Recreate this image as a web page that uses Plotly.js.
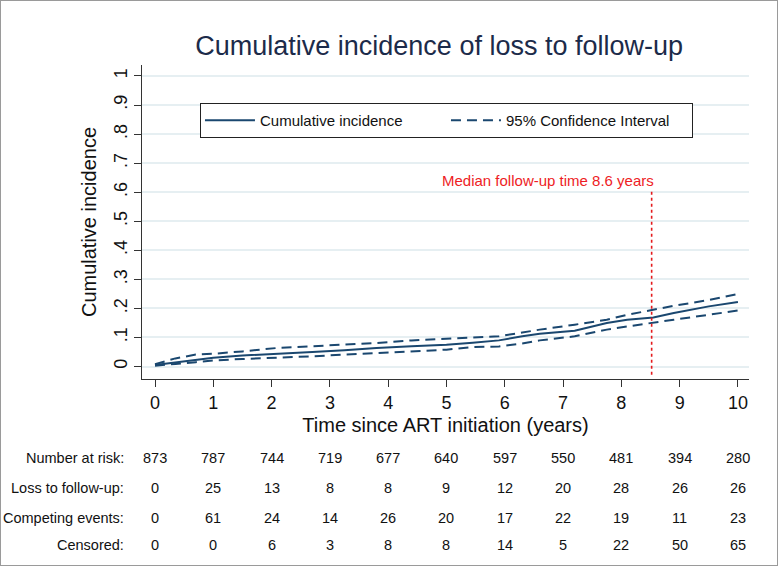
<!DOCTYPE html>
<html><head><meta charset="utf-8">
<script src="https://cdn.plot.ly/plotly-3.0.1.min.js"></script>
<style>
html,body{margin:0;padding:0;background:#fff;}
#chart{width:780px;height:567px;}
#frame{position:absolute;left:0;top:0;width:778px;height:566px;box-sizing:border-box;border:1.5px solid #9a9a9a;pointer-events:none;}
</style>
</head><body>
<div id="chart"></div><div id="frame"></div>
<script>
// ---- data ----
const years     = [0, 0.15, 0.35, 0.7, 1.0, 1.5, 2.1, 2.7, 3.25, 3.8, 4.4, 5.0, 5.45, 5.9, 6.3, 6.6, 7.2, 7.45, 7.75, 8.1, 8.55, 8.9, 9.5, 10];
const cif       = [0.005, 0.009, 0.015, 0.024, 0.030, 0.038, 0.043, 0.050, 0.056, 0.064, 0.070, 0.075, 0.082, 0.090, 0.104, 0.113, 0.123, 0.136, 0.150, 0.161, 0.169, 0.184, 0.207, 0.222];
const ciUpper   = [0.008, 0.016, 0.028, 0.041, 0.044, 0.052, 0.064, 0.070, 0.075, 0.081, 0.090, 0.095, 0.098, 0.104, 0.117, 0.127, 0.144, 0.152, 0.161, 0.178, 0.195, 0.209, 0.229, 0.250];
const ciLower   = [0.003, 0.005, 0.009, 0.015, 0.021, 0.026, 0.030, 0.035, 0.041, 0.047, 0.052, 0.058, 0.067, 0.069, 0.079, 0.090, 0.104, 0.115, 0.127, 0.138, 0.150, 0.161, 0.178, 0.193];

const xTickVals = [0, 1, 2, 3, 4, 5, 6, 7, 8, 9, 10];
const xTickText = ['0', '1', '2', '3', '4', '5', '6', '7', '8', '9', '10'];
const yTickVals = [0, 0.1, 0.2, 0.3, 0.4, 0.5, 0.6, 0.7, 0.8, 0.9, 1];
const yTickText = ['0', '.1', '.2', '.3', '.4', '.5', '.6', '.7', '.8', '.9', '1'];

const riskTimes       = [0, 1, 2, 3, 4, 5, 6, 7, 8, 9, 10];
const riskLabels      = ['Number at risk:', 'Loss to follow-up:', 'Competing events:', 'Censored:'];
const numberAtRisk    = [873, 787, 744, 719, 677, 640, 597, 550, 481, 394, 280];
const lossToFollowUp  = [0, 25, 13, 8, 8, 9, 12, 20, 28, 26, 26];
const competingEvents = [0, 61, 24, 14, 26, 20, 17, 22, 19, 11, 23];
const censored        = [0, 0, 6, 3, 8, 8, 14, 5, 22, 50, 65];

const medianLineAt = 8.52;
const medianLabel  = 'Median follow-up time 8.6 years';

// ---- styling ----
const navy = '#1a476f';
const baseFont = 'Liberation Sans, Arial, sans-serif';

const traces = [
  {x: years, y: cif, type: 'scatter', mode: 'lines', name: 'Cumulative incidence',
   line: {color: navy, width: 2}},
  {x: years, y: ciUpper, type: 'scatter', mode: 'lines', name: '95% Confidence Interval',
   legendgroup: 'ci', line: {color: navy, width: 2, dash: '10px,6px'}},
  {x: years, y: ciLower, type: 'scatter', mode: 'lines', name: '95% Confidence Interval',
   legendgroup: 'ci', showlegend: false, line: {color: navy, width: 2, dash: '10px,6px'}}
];

const tableRows = [numberAtRisk, lossToFollowUp, competingEvents, censored];
const rowY = [-0.252, -0.347, -0.444, -0.530];
const annotations = [];
tableRows.forEach((row, r) => {
  annotations.push({xref: 'x', yref: 'paper', x: 0, y: rowY[r], xanchor: 'right', yanchor: 'middle',
    xshift: -29, text: riskLabels[r], showarrow: false, font: {family: baseFont, size: 14.5, color: '#111'}});
  row.forEach((v, i) => {
    annotations.push({xref: 'x', yref: 'paper', x: riskTimes[i], y: rowY[r], xanchor: 'center', yanchor: 'middle',
      text: String(v), showarrow: false, font: {family: baseFont, size: 14.5, color: '#111'}});
  });
});
annotations.push({xref: 'x', yref: 'y', x: medianLineAt, y: 0.64, xanchor: 'right', yanchor: 'middle', xshift: 4,
  text: medianLabel, showarrow: false, font: {family: baseFont, size: 15, color: '#ee1c25'}});

const layout = {
  width: 780, height: 567,
  paper_bgcolor: '#ffffff', plot_bgcolor: '#ffffff',
  margin: {l: 142, r: 31, t: 65, b: 188},
  font: {family: baseFont, color: '#000'},
  title: {text: 'Cumulative incidence of loss to follow-up', xref: 'container', x: 0.563, xanchor: 'center',
          yref: 'container', y: 0.92, yanchor: 'middle', font: {family: baseFont, size: 27, color: '#1c2b4a'}},
  xaxis: {range: [-0.223, 10.19], tickvals: xTickVals, ticktext: xTickText, showgrid: false, zeroline: false,
          showline: true, linecolor: '#333', linewidth: 1.3, ticks: 'outside', ticklen: 7, tickcolor: '#333', tickwidth: 1.3,
          tickfont: {size: 18, color: '#111'},
          title: {text: 'Time since ART initiation (years)', font: {size: 20, color: '#111'}, standoff: 6}},
  yaxis: {range: [-0.0429, 1.0377], tickvals: yTickVals, ticktext: yTickText, tickangle: -90,
          showgrid: true, gridcolor: '#e6eff2', gridwidth: 1.5, zeroline: false,
          showline: true, linecolor: '#333', linewidth: 1.3, ticks: 'outside', ticklen: 7, tickcolor: '#333', tickwidth: 1.3,
          tickfont: {size: 18, color: '#111'},
          title: {text: 'Cumulative incidence', font: {size: 20, color: '#111'}, standoff: 8}},
  showlegend: true,
  legend: {orientation: 'h', x: 0.0955, y: 0.879, xanchor: 'left', yanchor: 'top',
           bordercolor: '#222', borderwidth: 1, bgcolor: '#fff', font: {size: 15, color: '#111'},
           itemwidth: 50, entrywidth: 181, entrywidthmode: 'pixels'},
  shapes: [{type: 'line', xref: 'x', yref: 'y', x0: medianLineAt, x1: medianLineAt, y0: -0.028, y1: 0.605,
            line: {color: '#e41a1c', width: 1.6, dash: 'dot'}}],
  annotations: annotations
};

Plotly.newPlot('chart', traces, layout, {displayModeBar: false, responsive: false});
</script>
</body></html>
